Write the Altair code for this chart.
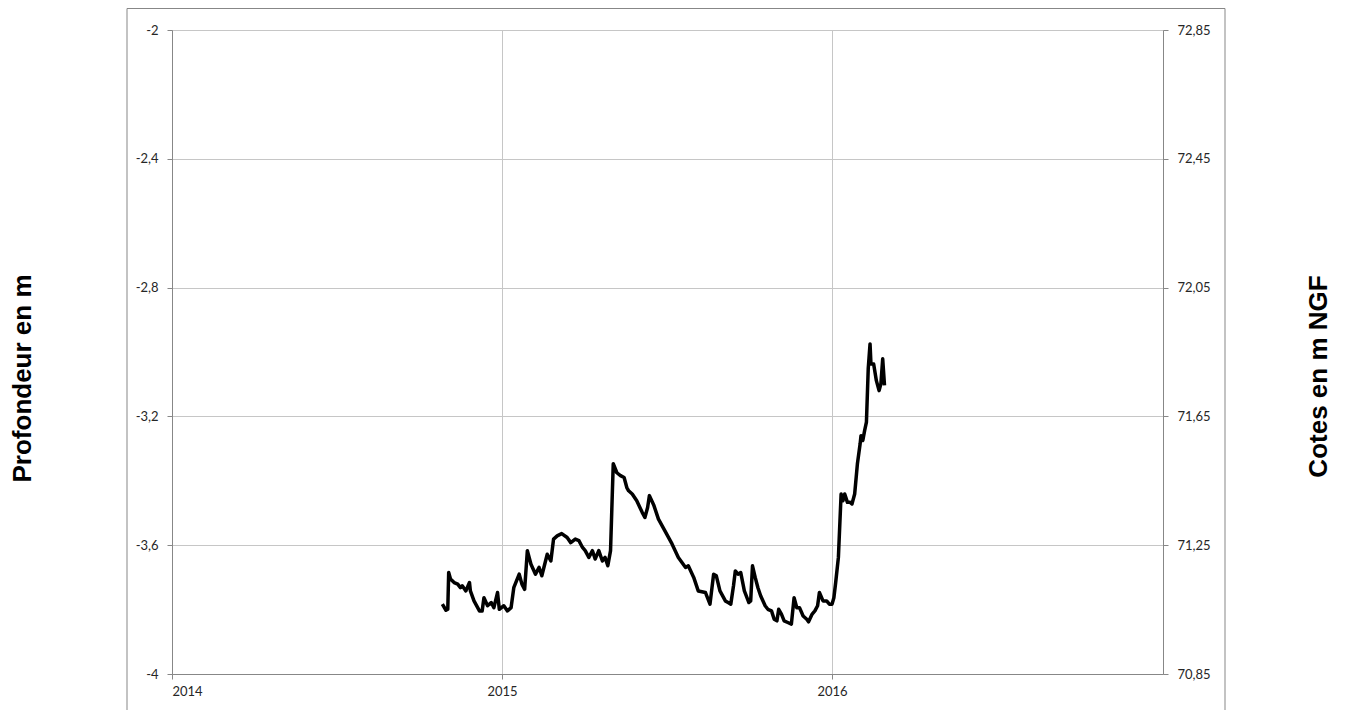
import altair as alt
import pandas as pd

dates = [
    "2014-10-27", "2014-10-31", "2014-11-02", "2014-11-03", "2014-11-05", "2014-11-09",
    "2014-11-13", "2014-11-16", "2014-11-18", "2014-11-22", "2014-11-26", "2014-11-27",
    "2014-12-01", "2014-12-07", "2014-12-10", "2014-12-12", "2014-12-16", "2014-12-20",
    "2014-12-23", "2014-12-27", "2014-12-29",
    "2015-01-03", "2015-01-07", "2015-01-11", "2015-01-14", "2015-01-20", "2015-01-23",
    "2015-01-26", "2015-01-29", "2015-02-02", "2015-02-07", "2015-02-11", "2015-02-14",
    "2015-02-20", "2015-02-24", "2015-02-27", "2015-03-03", "2015-03-08", "2015-03-14",
    "2015-03-18", "2015-03-23", "2015-03-27", "2015-03-31", "2015-04-03", "2015-04-07",
    "2015-04-11", "2015-04-14", "2015-04-18", "2015-04-22", "2015-04-25", "2015-04-28",
    "2015-05-01", "2015-05-04", "2015-05-08", "2015-05-12", "2015-05-16", "2015-05-19",
    "2015-05-21", "2015-05-25", "2015-05-30", "2015-06-05", "2015-06-08", "2015-06-11",
    "2015-06-13", "2015-06-18", "2015-06-23", "2015-06-30", "2015-07-08", "2015-07-15",
    "2015-07-23", "2015-07-26", "2015-08-01", "2015-08-06", "2015-08-14", "2015-08-19",
    "2015-08-23", "2015-08-26", "2015-08-30", "2015-09-05", "2015-09-08", "2015-09-11",
    "2015-09-14", "2015-09-16", "2015-09-19", "2015-09-22", "2015-09-26", "2015-10-01",
    "2015-10-03", "2015-10-05", "2015-10-08", "2015-10-11", "2015-10-14", "2015-10-19",
    "2015-10-22", "2015-10-26", "2015-10-29", "2015-11-01", "2015-11-03", "2015-11-06",
    "2015-11-09", "2015-11-13", "2015-11-17", "2015-11-20", "2015-11-23", "2015-11-26",
    "2015-11-30", "2015-12-04", "2015-12-06", "2015-12-10", "2015-12-13", "2015-12-16",
    "2015-12-18", "2015-12-22", "2015-12-26", "2015-12-29",
    "2016-01-01", "2016-01-03", "2016-01-05", "2016-01-08", "2016-01-11", "2016-01-13",
    "2016-01-15", "2016-01-18", "2016-01-21", "2016-01-23", "2016-01-26", "2016-01-29",
    "2016-02-01", "2016-02-02", "2016-02-04", "2016-02-06", "2016-02-08", "2016-02-10",
    "2016-02-12", "2016-02-13", "2016-02-16", "2016-02-19", "2016-02-22", "2016-02-24",
    "2016-02-26", "2016-02-28",
]

depth = [
    -3.783, -3.802, -3.799, -3.685, -3.705, -3.716,
    -3.721, -3.732, -3.726, -3.742, -3.716, -3.742,
    -3.773, -3.804, -3.804, -3.763, -3.788, -3.778,
    -3.794, -3.747, -3.799,
    -3.788, -3.804, -3.794, -3.732, -3.690, -3.721,
    -3.737, -3.617, -3.659, -3.690, -3.669, -3.695,
    -3.628, -3.649, -3.581, -3.571, -3.564, -3.576,
    -3.592, -3.581, -3.586, -3.607, -3.617, -3.638,
    -3.617, -3.643, -3.617, -3.649, -3.638, -3.664,
    -3.617, -3.347, -3.375, -3.384, -3.390, -3.421,
    -3.431, -3.441, -3.462, -3.498, -3.514, -3.483,
    -3.446, -3.477, -3.519, -3.555, -3.596, -3.638,
    -3.669, -3.664, -3.700, -3.742, -3.747, -3.783,
    -3.690, -3.695, -3.742, -3.773, -3.778, -3.783,
    -3.726, -3.680, -3.690, -3.685, -3.742, -3.778,
    -3.773, -3.664, -3.700, -3.732, -3.757, -3.788,
    -3.799, -3.804, -3.830, -3.835, -3.799, -3.814,
    -3.835, -3.840, -3.845, -3.763, -3.794, -3.794,
    -3.820, -3.830, -3.838, -3.814, -3.804, -3.788,
    -3.747, -3.773, -3.773, -3.783,
    -3.783, -3.763, -3.716, -3.638, -3.441, -3.462,
    -3.441, -3.467, -3.467, -3.472, -3.441, -3.348,
    -3.286, -3.260, -3.275, -3.244, -3.218, -3.052,
    -2.975, -3.037, -3.037, -3.089, -3.120, -3.099,
    -3.021, -3.104,
]

left_ticks = [-2, -2.4, -2.8, -3.2, -3.6, -4]
right_ticks = [72.85, 72.45, 72.05, 71.65, 71.25, 70.85]
year_ticks = [2014, 2015, 2016]
ngf_offset = 74.85  # cote NGF = profondeur + 74.85

df = pd.DataFrame({"date": pd.to_datetime(dates), "depth": depth})
df["cote"] = df["depth"] + ngf_offset

LABEL_FONT = "Lato"
LABEL_SIZE = 13
LABEL_COLOR = "#262626"
AXIS_COLOR = "#878787"
GRID_COLOR = "#c6c6c6"
TITLE_FONT = "Liberation Sans"
TITLE_SIZE = 26

x_enc = alt.X(
    "date:T",
    scale=alt.Scale(domain=[alt.DateTime(year=2014, month=1, date=1),
                            alt.DateTime(year=2017, month=1, date=1)]),
    axis=alt.Axis(
        values=[alt.DateTime(year=y, month=1, date=1) for y in year_ticks],
        format="%Y", title=None, grid=True, gridColor=GRID_COLOR,
        domainColor=AXIS_COLOR, tickColor=AXIS_COLOR, tickSize=5,
        labelPadding=6, labelFont=LABEL_FONT, labelFontSize=LABEL_SIZE,
        labelColor=LABEL_COLOR,
    ),
)

line = alt.Chart(df).mark_line(color="black", strokeWidth=3.5, strokeJoin="round").encode(
    x=x_enc,
    y=alt.Y(
        "depth:Q",
        scale=alt.Scale(domain=[-4, -2], nice=False, zero=False),
        axis=alt.Axis(
            values=left_ticks,
            labelExpr="replace(toString(datum.value), '.', ',')",
            grid=True, gridColor=GRID_COLOR, domainColor=AXIS_COLOR,
            tickColor=AXIS_COLOR, tickSize=5, labelPadding=9,
            labelFont=LABEL_FONT, labelFontSize=LABEL_SIZE, labelColor=LABEL_COLOR,
            title="Profondeur en m", titleAngle=270, titleX=-150, titleY=348,
            titleAlign="center", titleBaseline="middle", titleFont=TITLE_FONT,
            titleFontSize=TITLE_SIZE, titleFontWeight="bold", titleColor="black",
        ),
    ),
)

right = alt.Chart(df).mark_line(opacity=0).encode(
    x=x_enc,
    y=alt.Y(
        "cote:Q",
        scale=alt.Scale(domain=[70.85, 72.85], nice=False, zero=False),
        axis=alt.Axis(
            orient="right", values=right_ticks,
            labelExpr="replace(toString(datum.value), '.', ',')",
            grid=False, domainColor=AXIS_COLOR, tickColor=AXIS_COLOR,
            tickSize=5, labelPadding=9, labelFont=LABEL_FONT,
            labelFontSize=LABEL_SIZE, labelColor=LABEL_COLOR,
            title="Cotes en m NGF", titleAngle=270, titleX=155, titleY=346,
            titleAlign="center", titleBaseline="middle", titleFont=TITLE_FONT,
            titleFontSize=TITLE_SIZE, titleFontWeight="bold", titleColor="black",
        ),
    ),
)

frame = alt.Chart(pd.DataFrame({"k": [0]})).mark_rect(
    fillOpacity=0, stroke=AXIS_COLOR, strokeWidth=1
).encode(
    x=alt.value(-45), x2=alt.value(1053), y=alt.value(-21.5), y2=alt.value(720)
)

chart = alt.layer(frame, line, right).resolve_scale(y="independent").properties(
    width=991, height=644,
    autosize=alt.AutoSizeParams(type="none"),
    padding={"left": 164, "top": 22, "right": 174, "bottom": 36},
).configure_view(strokeWidth=0).configure(background="white")

chart.save("out.html", embed_options={"renderer": "svg", "actions": False})
